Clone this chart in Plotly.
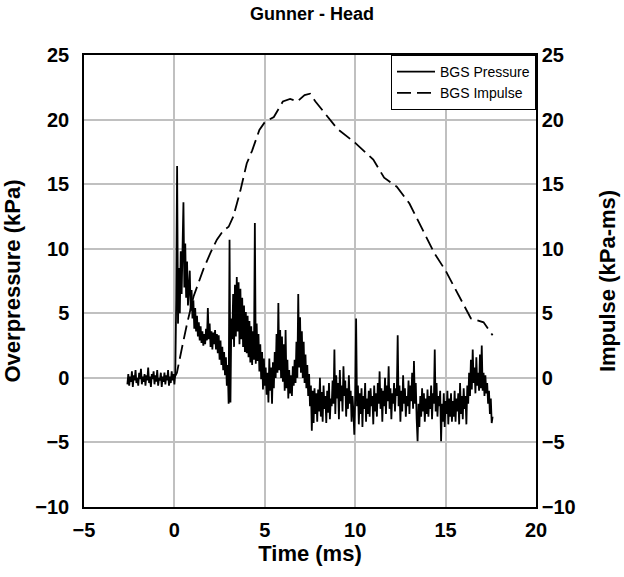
"""
Gunner - Head: blast gauge pressure and impulse traces
"""

import numpy as np
import plotly.graph_objects as go

# BGS pressure trace, sampled every 0.05 ms from -2.6 ms to 17.6 ms (kPa)
t_start = -2.6
t_step = 0.05
pressure = [
    -0.5, 0.3, -0.6, 0.1, -0.3, 0.5, -0.7, 0.2, -0.2, 0.6, -0.4, 0.0, -0.6, 0.4, -0.1, 0.7, -0.5, 0.1, -0.3, 0.3,
    -0.6, 0.2, -0.2, 0.8, -0.4, 0.1, -0.7, 0.3, -0.1, 0.5, -0.5, 0.2, -0.3, 0.6, -0.6, 0.0, -0.2, 0.4, -0.7, 0.1,
    -0.3, 0.4, -0.5, 0.2, -0.2, 0.6, -0.6, 0.1, -0.4, 0.5, -0.2, 0.3, -0.5, 0.4, 6.0, 16.4, 4.2, 8.5, 5.0, 9.8,
    6.5, 10.0, 13.6, 7.0, 10.4, 6.2, 9.0, 5.6, 7.4, 8.3, 5.2, 6.8, 4.6, 6.0, 3.8, 5.4, 3.6, 4.8, 3.2, 4.3,
    2.9, 4.0, 2.7, 3.6, 2.5, 3.4, 2.6, 3.8, 2.9, 5.4, 3.0, 4.2, 2.4, 3.6, 2.2, 3.5, 2.6, 3.7, 2.2, 3.4,
    1.9, 3.3, 1.4, 2.9, 1.0, 2.4, 0.6, 2.0, 0.2, 1.6, -0.6, 1.0, -2.0, 10.7, -1.9, 4.6, 3.0, 6.5, 2.4, 7.2,
    3.2, 7.8, 3.6, 7.4, 2.6, 6.9, 3.0, 6.2, 2.4, 5.6, 2.0, 5.1, 1.9, 4.8, 1.6, 4.4, 1.2, 4.0, 1.0, 3.6,
    1.4, 12.0, 1.1, 4.2, 1.3, 3.4, 0.5, 2.6, -0.1, 2.0, -0.9, 1.5, -0.6, 0.8, -1.3, 0.4, -1.9, 1.5, -1.0, 0.8,
    -2.0, 1.2, -0.8, 2.0, 0.0, 3.4, 0.4, 5.8, 0.6, 3.7, 0.0, 3.2, -0.3, 2.6, -1.0, 3.7, -0.8, 1.4, -1.6, 0.6,
    -1.2, 0.2, -1.4, 0.9, -0.6, 1.4, -0.4, 2.8, 0.0, 6.5, 0.8, 4.7, 0.4, 3.6, 0.0, 2.8, -0.4, 1.8, -0.8, 1.0,
    -1.4, 0.3, -2.2, -0.6, -4.1, -1.0, -3.5, -0.8, -2.8, -1.2, -3.4, -0.9, -2.6, 0.0, -3.0, -1.1, -3.4, -0.6, -2.4, -1.4,
    -3.5, -1.0, -2.7, -0.4, -3.2, -1.6, -2.2, -0.2, -2.0, 2.2, -2.8, 0.2, -1.6, -0.4, -3.2, 0.6, -1.8, -0.6, -2.6, 0.9,
    -1.4, -0.2, -3.0, -0.8, -2.4, 0.2, -2.0, -1.0, -3.4, -1.4, -2.6, -4.4, -1.6, 4.6, -2.2, -0.6, -3.6, -1.2, -2.8, -0.8,
    -3.8, -1.4, -2.4, -0.4, -3.4, -1.6, -2.8, -1.0, -3.0, -0.8, -2.2, -1.4, -3.6, -0.6, -2.6, -1.2, -3.0, -0.4, -2.0, 0.5,
    -2.4, -0.8, -3.4, -1.0, -2.2, 0.0, -2.8, -0.6, -1.8, 0.9, -2.4, -0.8, -3.2, -1.2, -2.0, -0.4, -2.6, -0.8, -1.4, 3.3,
    -2.2, -0.6, -3.4, -1.0, -2.6, 0.2, -2.0, -0.8, -3.0, -1.4, -2.2, -0.2, -2.8, -0.6, -1.8, 0.4, -2.4, 1.3, -2.0, -0.4,
    -3.2, -4.9, -2.0, -3.8, -1.4, -3.0, -0.8, -2.6, -1.2, -3.4, -1.6, -2.8, -0.9, -3.0, -1.4, -2.4, -0.6, -3.2, -1.2, -2.0,
    2.2, -2.6, -0.4, -3.0, -1.4, -2.2, -1.0, -4.9, -2.0, -3.4, -1.2, -3.8, -1.8, -2.8, -1.0, -3.6, -1.6, -3.0, -1.2, -3.4,
    -1.8, -3.0, -1.0, -3.4, -1.6, -2.6, -1.2, -3.6, -0.4, -2.8, -1.4, -3.2, -0.8, -2.4, -1.4, -3.6, -0.6, -2.0, 0.4, -1.4,
    1.4, -0.9, 2.2, -0.4, 0.8, -1.2, 1.6, -0.6, 0.4, -1.0, 1.8, -0.8, 2.5, -1.0, 0.4, -1.4, 0.2, -1.2, -0.4, -2.0,
    -1.0, -2.8, -1.6, -3.5, -3.0,
]
pressure_time = np.round(t_start + t_step * np.arange(len(pressure)), 2)

# BGS impulse curve (kPa-ms)
impulse_time = [
    0.0, 0.14, 0.4, 0.7, 1.06, 1.6, 2.0, 2.35, 2.7, 3.0, 3.26, 3.65, 4.0, 4.3, 4.7, 5.0,
    5.5, 6.0, 6.4, 6.8, 7.2, 7.5, 7.8, 8.3, 9.0, 10.0, 11.0, 11.6, 12.3, 13.0, 13.6,
    14.4, 15.0, 15.85, 16.4, 17.1, 17.6,
]
impulse = [
    0.0, 0.4, 2.2, 4.2, 6.3, 8.4, 9.7, 10.7, 11.4, 11.7, 12.5, 14.5, 16.6, 17.6, 19.2, 19.8,
    20.2, 21.4, 21.6, 21.4, 21.9, 22.0, 21.4, 20.5, 19.3, 18.2, 16.9, 15.5, 14.8, 13.5, 11.8,
    9.6, 8.3, 6.0, 4.6, 4.3, 3.3,
]

FONT = "Liberation Sans, Arial, sans-serif"
GRID = "#c0c0c0"

fig = go.Figure()

fig.add_trace(go.Scatter(
    x=pressure_time, y=pressure, mode="lines", name="BGS Pressure",
    line=dict(color="black", width=1.8),
))
fig.add_trace(go.Scatter(
    x=impulse_time, y=impulse, mode="lines", name="BGS Impulse", yaxis="y2",
    line=dict(color="black", width=1.8, dash="14px,6px"),
))

tick_font = dict(family=FONT, size=20, color="black", weight="bold")
title_font = dict(family=FONT, size=22, color="black", weight="bold")

fig.update_layout(
    width=624,
    height=577,
    margin=dict(l=84, r=88, t=55, b=70),
    paper_bgcolor="white",
    plot_bgcolor="white",
    font=dict(family=FONT, color="black"),
    title=dict(
        text="Gunner - Head", x=0.5, xanchor="center",
        y=0.976, yanchor="middle",
        font=dict(family=FONT, size=18, color="black", weight="bold"),
    ),
    xaxis=dict(
        range=[-5, 20], dtick=5, tick0=-5, automargin=False,
        showgrid=True, gridcolor=GRID, gridwidth=1.5,
        showline=True, linecolor="black", linewidth=1.5, mirror=True,
        zeroline=False, ticks="", ticklabelstandoff=4,
        tickfont=tick_font,
        title=dict(text="Time (ms)", font=title_font, standoff=0),
    ),
    yaxis=dict(
        range=[-10, 25], dtick=5, tick0=-10, automargin=False,
        showgrid=True, gridcolor=GRID, gridwidth=1.5,
        showline=True, linecolor="black", linewidth=1.5,
        zeroline=False, ticks="", ticklabelstandoff=9,
        tickfont=tick_font,
        title=dict(text="Overpressure (kPa)", font=title_font, standoff=13),
    ),
    yaxis2=dict(
        range=[-10, 25], dtick=5, tick0=-10, automargin=False,
        overlaying="y", side="right",
        showgrid=False, showline=True, linecolor="black", linewidth=1.5,
        zeroline=False, ticks="", ticklabelstandoff=0,
        tickfont=tick_font,
        title=dict(text="Impulse (kPa-ms)", font=title_font, standoff=25),
    ),
    legend=dict(
        x=1, xanchor="right", y=1, yanchor="top",
        bgcolor="white", bordercolor="black", borderwidth=1,
        font=dict(family=FONT, size=14, color="black"),
        itemwidth=38, tracegroupgap=0,
    ),
    showlegend=True,
)

# drop the default page margin so the figure sits at the window's corner
fig.write_html(
    "out.html",
    config={"displayModeBar": False},
    post_script="document.body.style.margin = '0';",
)
